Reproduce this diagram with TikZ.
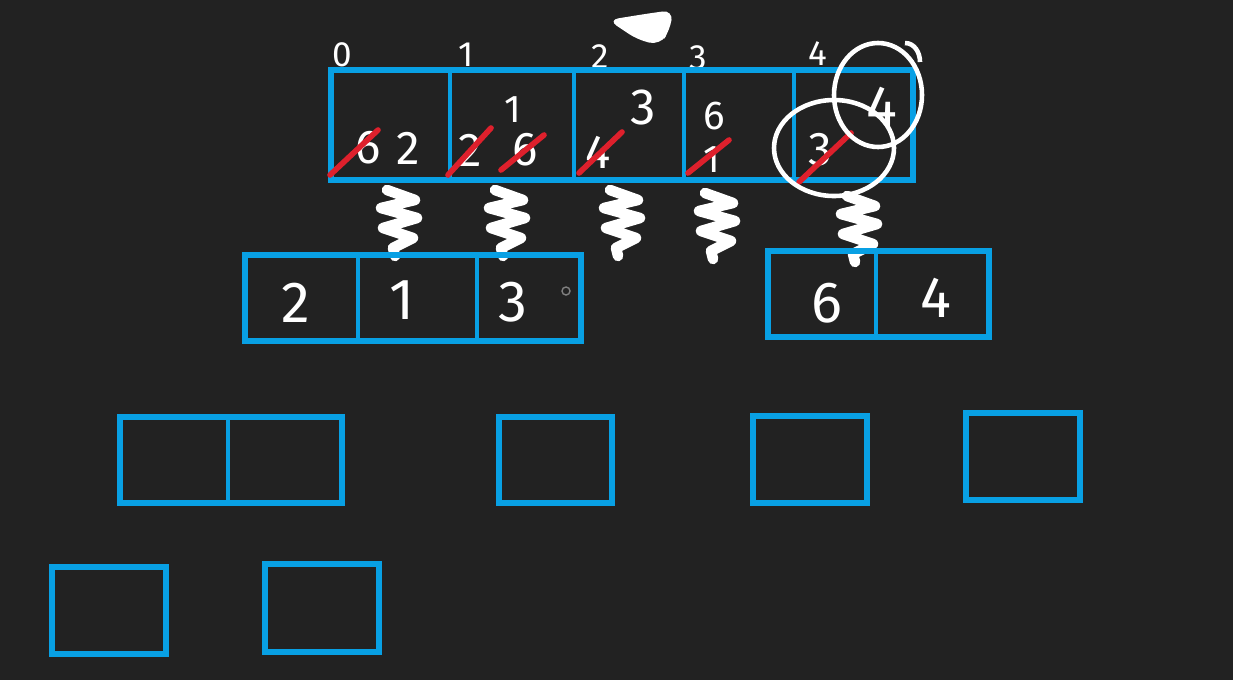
\documentclass[tikz,border=0pt]{standalone}
\usepackage{fontspec}
\setmainfont{Fira Sans}
\definecolor{board}{RGB}{34,34,34}
\definecolor{penblue}{RGB}{8,160,228}
\definecolor{penred}{RGB}{222,32,44}
\begin{document}
\begin{tikzpicture}[x=0.02cm, y=-0.02cm,
    cellbox/.style={draw=penblue, line width=3pt},
    divider/.style={draw=penblue, line width=1.8pt},
    chalk/.style={text=white, inner sep=0pt, font=\fontsize{27}{27}\selectfont},
    bigchalk/.style={chalk, font=\fontsize{33}{33}\selectfont},
    idx/.style={text=white, inner sep=0pt, font=\fontsize{20}{20}\selectfont},
    strike/.style={draw=penred, line width=3.2pt, line cap=round},
    ring/.style={draw=white, line width=2.6pt},
    scrawl/.style={draw=white, line width=6pt, line cap=round, line join=round}]
    \fill[board] (0,0) rectangle (1233,680);
    \useasboundingbox (0,0) rectangle (1233,680);

    \begin{scope}
        \fill[white, rounded corners=6] (608,20) -- (645,14) -- (673,10) -- (670,30) -- (660,45) -- (638,40) -- cycle;

        \foreach \n/\x/\y in {0/342/55, 1/466/55, 2/600/57, 3/698/58, 4/818/54}
            \node[idx] (i\n) at (\x,\y) {\n};

        \draw[cellbox] (331,70) rectangle (913,180);
        \foreach \x in {450,574,684,794}
            \draw[divider] (\x,72) -- (\x,178);

        \node[chalk] (a0old) at (368,148) {6};
        \node[chalk] (a0) at (408,148) {2};
        \node[chalk] (a1old) at (470,150) {2};
        \node[chalk] (a1mid) at (525,150) {6};
        \node[chalk, font=\fontsize{22}{22}\selectfont] (a1) at (513,110) {1};
        \node[chalk] (a2old) at (598,152) {4};
        \node[chalk, font=\fontsize{29}{29}\selectfont] (a2) at (643,108) {3};
        \node[chalk, font=\fontsize{22}{22}\selectfont] (a3old) at (712,160) {1};
        \node[chalk, font=\fontsize{23}{23}\selectfont] (a3) at (714,116) {6};
        \node[chalk] (a4old) at (820,150) {3};
        \node[bigchalk] (a4) at (882,107) {4};

        \draw[strike] (330,175) -- (378,130);
        \draw[strike] (448,175) -- (491,128);
        \draw[strike] (501,170) -- (544,135);
        \draw[strike] (579,173) -- (622,132);
        \draw[strike] (688,173) -- (729,140);
        \draw[strike] (799,182) -- (851,133);

        \draw[ring] (834,148) ellipse [x radius=60, y radius=48];
        \draw[ring] (878,95) ellipse [x radius=44, y radius=52];
        \draw[ring] (905,43) to[out=0, in=90] (920,62);
    \end{scope}

    \foreach \c in {(397,222), (505,222), (620,222), (715,225), (857,228)}
        \draw[scrawl] \c ++(-10,-32) -- ++(28,10) -- ++(-34,8) -- ++(36,10)
            -- ++(-34,10) -- ++(30,10) -- ++(-20,10) -- ++(2,8);

    \begin{scope}
        \draw[cellbox] (245,255) rectangle (581,341);
        \draw[divider] (358,257) -- (358,339);
        \draw[divider] (477,257) -- (477,339);
        \node[bigchalk] (l0) at (296,303) {2};
        \node[bigchalk] (l1) at (402,300) {1};
        \node[bigchalk] (l2) at (513,302) {3};
        \draw[gray, line width=0.8pt] (566,291) circle [radius=4];

        \draw[cellbox] (768,251) rectangle (989,337);
        \draw[divider] (876,253) -- (876,335);
        \node[bigchalk] (r0) at (827,303) {6};
        \node[bigchalk] (r1) at (936,298) {4};
    \end{scope}

    \draw[cellbox] (120,417) rectangle (342,503);
    \draw[divider] (228,419) -- (228,501);
    \draw[cellbox] (499,417) rectangle (612,503);
    \draw[cellbox] (753,416) rectangle (867,503);
    \draw[cellbox] (966,413) rectangle (1080,500);

    \draw[cellbox] (52,567) rectangle (166,654);
    \draw[cellbox] (265,564) rectangle (379,652);
\end{tikzpicture}
\end{document}
